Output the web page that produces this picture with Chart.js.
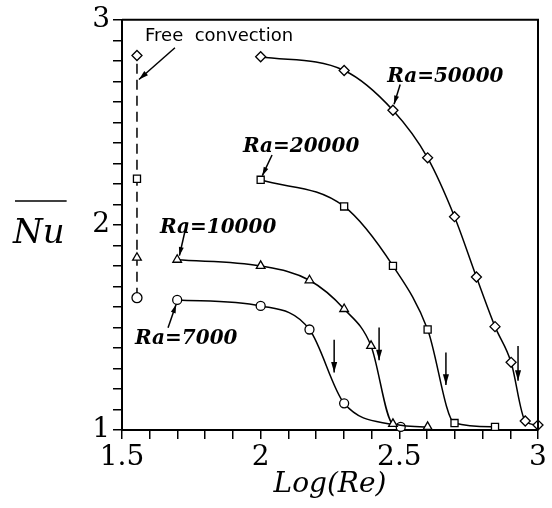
<!DOCTYPE html>
<html>
<head>
<meta charset="utf-8">
<script src="https://cdn.jsdelivr.net/npm/chart.js@4.4.1/dist/chart.umd.min.js"></script>
<style>
  html, body { margin: 0; padding: 0; background: #fff; }
  #wrap { width: 552px; height: 508px; }
</style>
</head>
<body>
<div id="wrap"><canvas id="nuChart" width="552" height="508"></canvas></div>
<script>
// Log(Re) and mean Nu
const ra50000X = [2.0, 2.301, 2.477, 2.602, 2.699, 2.778, 2.845, 2.903, 2.954, 3.0];
const ra50000Y = [2.82, 2.753, 2.559, 2.327, 2.04, 1.746, 1.504, 1.33, 1.044, 1.024];

const ra20000X = [2.0, 2.301, 2.477, 2.602, 2.699, 2.845];
const ra20000Y = [2.22, 2.09, 1.80, 1.49, 1.034, 1.015];

const ra10000X = [1.699, 2.0, 2.176, 2.301, 2.398, 2.477, 2.602];
const ra10000Y = [1.83, 1.80, 1.73, 1.59, 1.41, 1.03, 1.015];

const ra7000X = [1.699, 2.0, 2.176, 2.301, 2.505];
const ra7000Y = [1.634, 1.605, 1.49, 1.13, 1.015];

// free convection values, all at the same abscissa
const freeX = [1.554, 1.554, 1.554, 1.554];
const freeY = [1.645, 1.84, 2.225, 2.826];
const freeStyles = ['circle', 'triangle', 'rect', 'rectRot'];

// transition arrows (pointing down)
const dropX = [2.265, 2.427, 2.668, 2.928];
const dropTop = [1.44, 1.50, 1.378, 1.41];
const dropBottom = [1.28, 1.34, 1.22, 1.24];

// curve labels and their leader arrows
const labelText = ['Ra=50000', 'Ra=20000', 'Ra=10000', 'Ra=7000'];
const labelX = [2.456, 1.936, 1.637, 1.547];
const labelY = [2.695, 2.356, 1.959, 1.421];
const leaderFrom = [[2.503, 2.685], [2.041, 2.341], [1.727, 1.969], [1.666, 1.499]];
const leaderTo = [[2.481, 2.588], [2.006, 2.24], [1.707, 1.85], [1.695, 1.612]];

const freeLabel = 'Free  convection';
const freeLabelPos = [1.583, 2.898];
const freeLeader = [[1.691, 2.864], [1.561, 2.709]];

const xTicksLabeled = [1.5, 2, 2.5, 3];
const yTicksLabeled = [1, 2, 3];

function pairs(xs, ys) {
    return xs.map((x, i) => ({ x: x, y: ys[i] }));
}

function curve(xs, ys, style) {
    return {
        data: pairs(xs, ys),
        borderColor: '#000',
        borderWidth: 1.5,
        backgroundColor: '#fff',
        pointStyle: style,
        pointRadius: style === 'circle' ? 4.5 : 5,
        pointBorderColor: '#000',
        pointBackgroundColor: '#fff',
        pointBorderWidth: 1.3,
        cubicInterpolationMode: 'monotone',
        fill: false,
        clip: false
    };
}

function arrow(ctx, x1, y1, x2, y2, head) {
    const a = Math.atan2(y2 - y1, x2 - x1);
    ctx.beginPath();
    ctx.moveTo(x1, y1);
    ctx.lineTo(x2, y2);
    ctx.stroke();
    ctx.beginPath();
    ctx.moveTo(x2, y2);
    ctx.lineTo(x2 - head * Math.cos(a - 0.28), y2 - head * Math.sin(a - 0.28));
    ctx.lineTo(x2 - head * Math.cos(a + 0.28), y2 - head * Math.sin(a + 0.28));
    ctx.closePath();
    ctx.fill();
}

const notes = {
    id: 'notes',
    afterDatasetsDraw(chart) {
        const ctx = chart.ctx;
        const xs = chart.scales.x, ys = chart.scales.y;
        const px = v => xs.getPixelForValue(v);
        const py = v => ys.getPixelForValue(v);
        ctx.save();
        ctx.strokeStyle = '#000';
        ctx.fillStyle = '#000';
        ctx.lineWidth = 1.5;

        dropX.forEach((x, i) => arrow(ctx, px(x), py(dropTop[i]), px(x), py(dropBottom[i]), 11));

        leaderFrom.forEach((f, i) => {
            arrow(ctx, px(f[0]), py(f[1]), px(leaderTo[i][0]), py(leaderTo[i][1]), 9);
        });
        arrow(ctx, px(freeLeader[0][0]), py(freeLeader[0][1]), px(freeLeader[1][0]), py(freeLeader[1][1]), 10);

        ctx.textBaseline = 'alphabetic';
        ctx.textAlign = 'left';
        ctx.font = 'italic bold 20px "DejaVu Serif"';
        labelText.forEach((t, i) => ctx.fillText(t, px(labelX[i]), py(labelY[i])));

        ctx.font = '18px "DejaVu Sans"';
        ctx.fillText(freeLabel, px(freeLabelPos[0]), py(freeLabelPos[1]));
        ctx.restore();
    },
    afterDraw(chart) {
        const ctx = chart.ctx;
        const a = chart.chartArea;
        ctx.save();
        ctx.strokeStyle = '#000';
        ctx.lineWidth = 2;
        ctx.beginPath();
        ctx.moveTo(a.left, a.top);
        ctx.lineTo(a.right, a.top);
        ctx.lineTo(a.right, a.bottom);
        ctx.stroke();

        // y title: Nu with an overbar, horizontal
        ctx.fillStyle = '#000';
        ctx.font = 'italic 34px "DejaVu Serif"';
        ctx.textAlign = 'left';
        ctx.textBaseline = 'alphabetic';
        ctx.fillText('Nu', 13, 243);
        const w = ctx.measureText('Nu').width;
        ctx.lineWidth = 1.5;
        ctx.beginPath();
        ctx.moveTo(15, 201);
        ctx.lineTo(15 + w, 201);
        ctx.stroke();
        ctx.restore();
    }
};

const near = (v, list) => list.some(t => Math.abs(v - t) < 1e-6);

new Chart(document.getElementById('nuChart'), {
    type: 'line',
    data: {
        datasets: [
            curve(ra50000X, ra50000Y, 'rectRot'),
            curve(ra20000X, ra20000Y, 'rect'),
            curve(ra10000X, ra10000Y, 'triangle'),
            curve(ra7000X, ra7000Y, 'circle'),
            {
                data: pairs(freeX, freeY),
                borderColor: '#000',
                borderWidth: 1.5,
                borderDash: [10, 6],
                pointStyle: freeStyles,
                pointRadius: 5,
                pointBorderColor: '#000',
                pointBackgroundColor: '#fff',
                pointBorderWidth: 1.3,
                tension: 0,
                fill: false,
                clip: false
            }
        ]
    },
    options: {
        responsive: false,
        animation: false,
        layout: { padding: { top: 17, right: 14, left: 0, bottom: 0 } },
        plugins: {
            legend: { display: false },
            tooltip: { enabled: false }
        },
        scales: {
            x: {
                type: 'linear',
                min: 1.5,
                max: 3,
                afterFit: s => { s.height = 78; },
                border: { display: true, color: '#000', width: 2 },
                grid: { drawOnChartArea: false, drawTicks: true, tickLength: 9, color: '#000', lineWidth: 1.5 },
                title: {
                    display: true,
                    text: 'Log(Re)',
                    color: '#000',
                    padding: { top: 0, bottom: 6 },
                    font: { family: 'DejaVu Serif', size: 28, style: 'italic' }
                },
                ticks: {
                    stepSize: 0.1,
                    autoSkip: false,
                    maxRotation: 0,
                    padding: 2,
                    color: '#000',
                    font: { family: 'DejaVu Serif', size: 28 },
                    callback: v => near(v, xTicksLabeled) ? String(Math.round(v * 10) / 10) : ''
                }
            },
            y: {
                type: 'linear',
                min: 1,
                max: 3,
                afterFit: s => { s.width = 122; },
                border: { display: true, color: '#000', width: 2 },
                grid: { drawOnChartArea: false, drawTicks: true, tickLength: 9, color: '#000', lineWidth: 1.5 },
                ticks: {
                    stepSize: 0.1,
                    autoSkip: false,
                    padding: 3,
                    color: '#000',
                    font: { family: 'DejaVu Serif', size: 28 },
                    callback: v => near(v, yTicksLabeled) ? String(Math.round(v)) : ''
                }
            }
        }
    },
    plugins: [notes]
});
</script>
</body>
</html>
